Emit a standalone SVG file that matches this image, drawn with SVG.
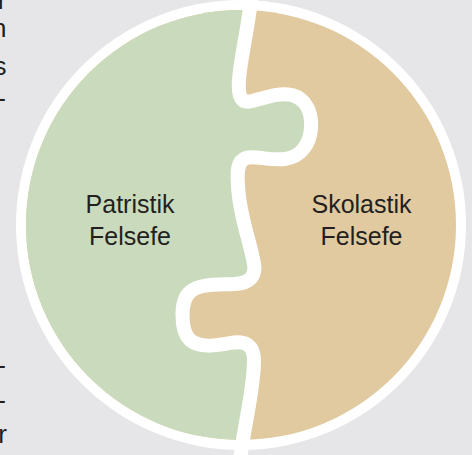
<svg xmlns="http://www.w3.org/2000/svg" width="472" height="455" viewBox="0 0 472 455">
  <style>
    .lbl { font-family: "Liberation Sans", Arial, sans-serif; font-size: 25px; fill: #231f20; text-anchor: middle; }
    .frag { font-family: "Liberation Sans", Arial, sans-serif; font-size: 26px; fill: #231f20; text-anchor: end; }
    .divider { fill: none; stroke: #ffffff; stroke-width: 14; stroke-linejoin: round; stroke-linecap: round; }
  </style>
  <defs>
    <clipPath id="inner">
      <circle cx="241" cy="225" r="215"/>
    </clipPath>
    <path id="seam" d="M 252,-10 C 250,20 240,60 239,80 C 238,95 240,104 252,101 C 265,98 278,92 292,95 C 306,99 312,112 311,128 C 310,145 300,157 285,159 C 268,161 255,155 246,158 C 237,161 237,172 238,185 C 239,215 250,240 254,264 C 256,276 250,283 235,284 C 220,285 200,283 190,292 C 180,300 180,330 190,340 C 200,348 215,346 230,343 C 245,340 254,345 254,360 C 254,390 245,420 240,460"/>
  </defs>
  <rect x="0" y="0" width="472" height="455" fill="#e6e6e8"/>
  <g id="page-text-fragments">
    <text class="frag" x="6.5" y="9">r</text>
    <text class="frag" x="6.5" y="37">n</text>
    <text class="frag" x="6.5" y="75">s</text>
    <text class="frag" x="6" y="107">-</text>
    <text class="frag" x="6" y="374">-</text>
    <text class="frag" x="6" y="409">-</text>
    <text class="frag" x="7" y="443">r</text>
  </g>
  <circle cx="241" cy="225" r="225" fill="#ffffff"/>
  <g id="skolastik">
    <circle cx="241" cy="225" r="215" fill="#e1caa0"/>
    <text class="lbl" x="361.5" y="213">Skolastik</text>
    <text class="lbl" x="361.5" y="245">Felsefe</text>
  </g>
  <g id="patristik">
    <path clip-path="url(#inner)" fill="#cadbbd" d="M -10,-10 L 252,-10 C 250,20 240,60 239,80 C 238,95 240,104 252,101 C 265,98 278,92 292,95 C 306,99 312,112 311,128 C 310,145 300,157 285,159 C 268,161 255,155 246,158 C 237,161 237,172 238,185 C 239,215 250,240 254,264 C 256,276 250,283 235,284 C 220,285 200,283 190,292 C 180,300 180,330 190,340 C 200,348 215,346 230,343 C 245,340 254,345 254,360 C 254,390 245,420 240,460 L -10,460 Z"/>
    <text class="lbl" x="130" y="213">Patristik</text>
    <text class="lbl" x="130" y="245">Felsefe</text>
  </g>
  <g id="connectors">
    <use href="#seam" class="divider"/>
  </g>
</svg>
